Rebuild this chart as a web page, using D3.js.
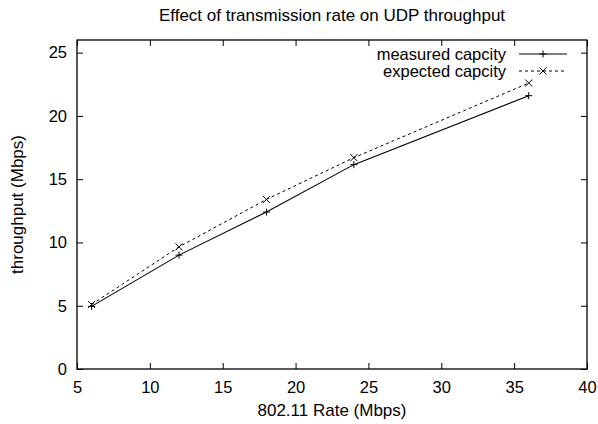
<!DOCTYPE html>
<html>
<head>
<meta charset="utf-8">
<script src="https://d3js.org/d3.v7.min.js"></script>
<style>
    body { margin: 0; background: #fff; }
    text { font-family: "Liberation Sans", Arial, sans-serif; fill: #000; }
</style>
</head>
<body>
<svg id="chart"></svg>
<script>
    // data
    var rates = [6, 12, 18, 24, 36];
    var measured = [4.95, 9.0, 12.4, 16.15, 21.6];
    var expected = [5.1, 9.65, 13.4, 16.7, 22.6];
    var xTicks = [5, 10, 15, 20, 25, 30, 35, 40];
    var yTicks = [0, 5, 10, 15, 20, 25];
    var seriesNames = ["measured capcity", "expected capcity"];

    var W = 598, H = 424;
    var margin = { top: 40, right: 11, bottom: 55, left: 77 },
        width = W - margin.left - margin.right,
        height = H - margin.top - margin.bottom;

    var svg = d3.select("#chart")
        .attr("width", W)
        .attr("height", H);

    var g = svg.append("g")
        .attr("transform", "translate(" + margin.left + "," + margin.top + ")");

    var x = d3.scaleLinear().domain([5, 40]).range([0, width]);
    var y = d3.scaleLinear().domain([0, 26]).range([height, 0]);

    // axes, gnuplot style: inward ticks, mirrored on top/right
    var tick = 6;
    g.append("g")
        .attr("transform", "translate(0," + height + ")")
        .call(d3.axisBottom(x).tickValues(xTicks).tickSizeInner(-tick).tickSizeOuter(0).tickPadding(12));
    g.append("g")
        .call(d3.axisTop(x).tickValues(xTicks).tickSizeInner(-tick).tickSizeOuter(0).tickFormat(""));
    g.append("g")
        .call(d3.axisLeft(y).tickValues(yTicks).tickSizeInner(-tick).tickSizeOuter(0).tickPadding(10));
    g.append("g")
        .attr("transform", "translate(" + width + ",0)")
        .call(d3.axisRight(y).tickValues(yTicks).tickSizeInner(-tick).tickSizeOuter(0).tickFormat(""));

    g.selectAll(".domain").remove();
    g.selectAll(".tick line").attr("stroke", "#000").attr("stroke-width", 1);
    g.selectAll(".tick text").style("font-size", "16.5px").style("font-family", "'Liberation Sans', Arial, sans-serif");

    // frame
    g.append("rect")
        .attr("x", 0).attr("y", 0)
        .attr("width", width).attr("height", height)
        .attr("fill", "none")
        .attr("stroke", "#000")
        .attr("stroke-width", 1.3);

    // lines
    var line = d3.line()
        .x(function (d) { return x(d[0]); })
        .y(function (d) { return y(d[1]); });

    var mData = rates.map(function (r, i) { return [r, measured[i]]; });
    var eData = rates.map(function (r, i) { return [r, expected[i]]; });

    g.append("path").datum(mData)
        .attr("fill", "none").attr("stroke", "#000").attr("stroke-width", 1.1)
        .attr("d", line);
    g.append("path").datum(eData)
        .attr("fill", "none").attr("stroke", "#000").attr("stroke-width", 1)
        .attr("stroke-dasharray", "3,3")
        .attr("d", line);

    var s = 3.5;
    function plus(sel, cx, cy) {
        sel.append("path")
            .attr("d", "M" + (cx - s) + "," + cy + "H" + (cx + s) + "M" + cx + "," + (cy - s) + "V" + (cy + s))
            .attr("stroke", "#000").attr("stroke-width", 1);
    }
    function cross(sel, cx, cy) {
        sel.append("path")
            .attr("d", "M" + (cx - s) + "," + (cy - s) + "L" + (cx + s) + "," + (cy + s) +
                "M" + (cx - s) + "," + (cy + s) + "L" + (cx + s) + "," + (cy - s))
            .attr("stroke", "#000").attr("stroke-width", 1);
    }
    mData.forEach(function (d) { plus(g, x(d[0]), y(d[1])); });
    eData.forEach(function (d) { cross(g, x(d[0]), y(d[1])); });

    // legend
    var lx1 = 442, lx2 = 490, ly = 14, lstep = 17;
    seriesNames.forEach(function (name, i) {
        var yy = ly + i * lstep;
        g.append("text")
            .attr("x", lx1 - 13).attr("y", yy)
            .attr("dy", "0.35em")
            .attr("text-anchor", "end")
            .style("font-size", "16.5px")
            .text(name);
        var ln = g.append("line")
            .attr("x1", lx1).attr("x2", lx2)
            .attr("y1", yy).attr("y2", yy)
            .attr("stroke", "#000").attr("stroke-width", 1);
        if (i == 1) {
            ln.attr("stroke-dasharray", "3,3");
            cross(g, (lx1 + lx2) / 2, yy);
        } else {
            plus(g, (lx1 + lx2) / 2, yy);
        }
    });

    // titles
    svg.append("text")
        .attr("x", margin.left + width / 2).attr("y", 21)
        .attr("text-anchor", "middle")
        .style("font-size", "17px")
        .text("Effect of transmission rate on UDP throughput");

    svg.append("text")
        .attr("x", margin.left + width / 2).attr("y", 416)
        .attr("text-anchor", "middle")
        .style("font-size", "17px")
        .text("802.11 Rate (Mbps)");

    svg.append("text")
        .attr("transform", "translate(23," + (margin.top + height / 2) + ") rotate(-90)")
        .attr("text-anchor", "middle")
        .style("font-size", "17px")
        .text("throughput (Mbps)");
</script>
</body>
</html>
